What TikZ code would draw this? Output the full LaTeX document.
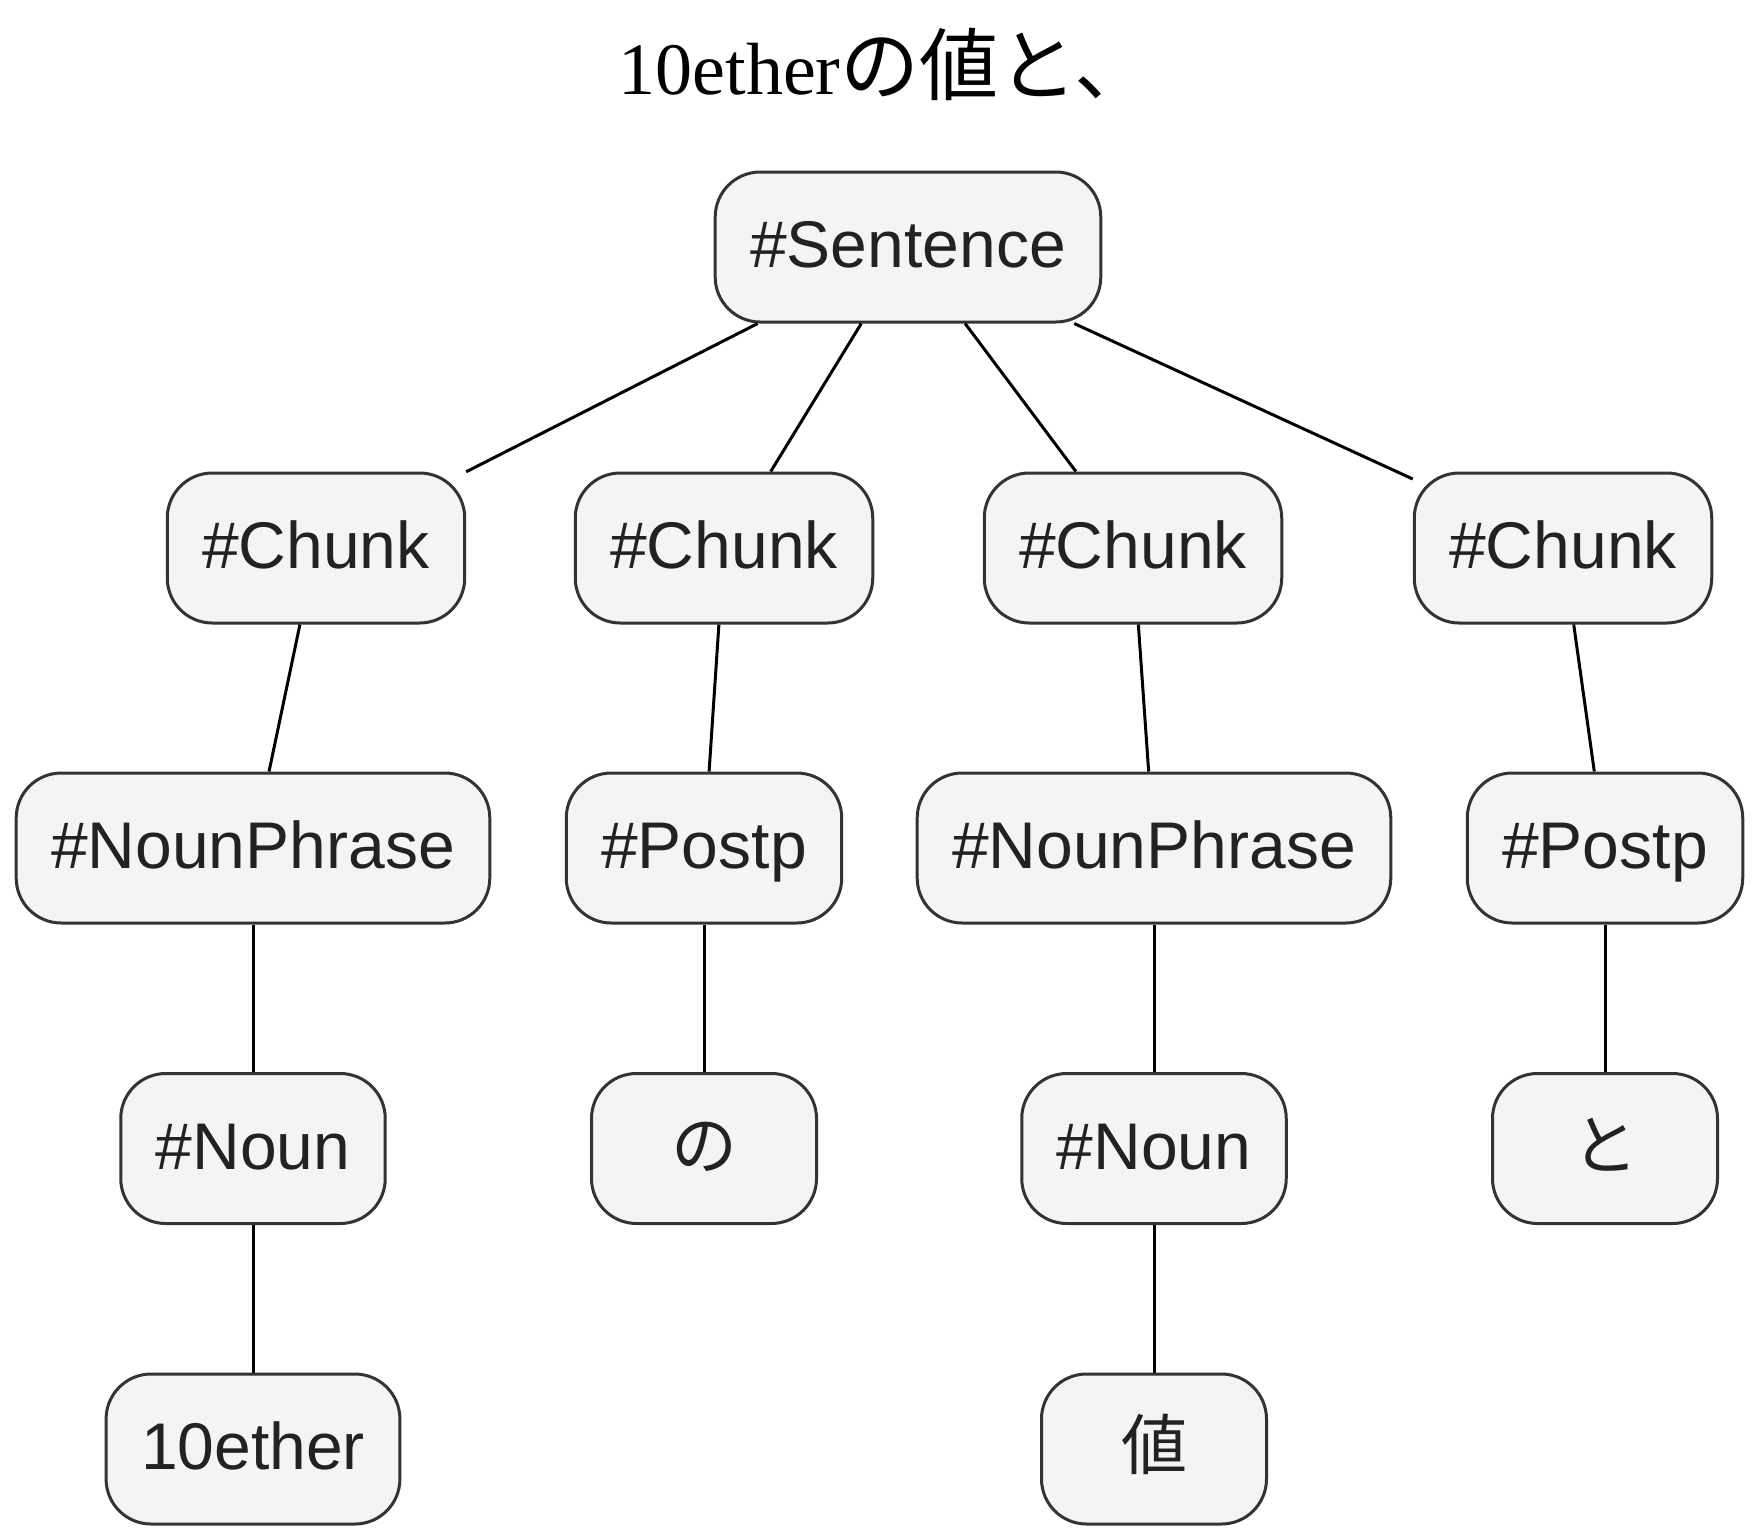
\documentclass[tikz,border=0pt]{standalone}
\usepackage{fontspec}
\setmainfont{Liberation Serif}
\setsansfont{Liberation Sans}
\newfontfamily\cjk{Noto Sans CJK JP}
\usepackage{tikz}
\usetikzlibrary{positioning}
\definecolor{boxfill}{HTML}{F4F4F4}
\definecolor{boxline}{HTML}{333333}
\definecolor{tagtext}{HTML}{222222}

\begin{document}
\begin{tikzpicture}[x=0.5pt,y=-0.5pt,node distance=150.25pt,
  tag/.style={rectangle,rounded corners=22.5pt,fill=boxfill,draw=boxline,line width=1.5pt,
    text=tagtext,font=\sffamily\fontsize{33}{36}\selectfont,inner xsep=17.5pt,
    minimum width=112.5pt,minimum height=75pt,text height=28pt,text depth=7.5pt},
  link/.style={line width=1.5pt,black}]
  \useasboundingbox (0,0) rectangle (1758,1539);

  \node[anchor=base,font=\fontsize{37}{42}\selectfont] (title) at (886,94)
    {10ether{\cjk\fontsize{39.5}{42}\selectfont の値と、}};

  \node[tag] (s) at (908,247) {\#Sentence};
  \node[tag] (c1) at (316,548) {\#Chunk};
  \node[tag] (c2) at (724,548) {\#Chunk};
  \node[tag] (c3) at (1133,548) {\#Chunk};
  \node[tag] (c4) at (1563,548) {\#Chunk};

  \node[tag] (np1) at (253,848) {\#NounPhrase};
  \node[tag] (pp1) at (704,848) {\#Postp};
  \node[tag] (np2) at (1154,848) {\#NounPhrase};
  \node[tag] (pp2) at (1605,848) {\#Postp};

  \node[tag] (n1) [below of=np1] {\#Noun};
  \node[tag] (no) [below of=pp1] {\cjk の};
  \node[tag] (n2) [below of=np2] {\#Noun};
  \node[tag] (to) [below of=pp2] {\cjk と};

  \node[tag] (w1) [below of=n1] {10ether};
  \node[tag] (w2) [below of=n2] {\cjk 値};

  \path[link]
    (s) edge (c1)
        edge (c2)
        edge (c3)
        edge (c4)
    (c1) edge (np1)
    (c2) edge (pp1)
    (c3) edge (np2)
    (c4) edge (pp2)
    (np1) edge (n1)
    (pp1) edge (no)
    (np2) edge (n2)
    (pp2) edge (to)
    (n1) edge (w1)
    (n2) edge (w2);
\end{tikzpicture}
\end{document}
